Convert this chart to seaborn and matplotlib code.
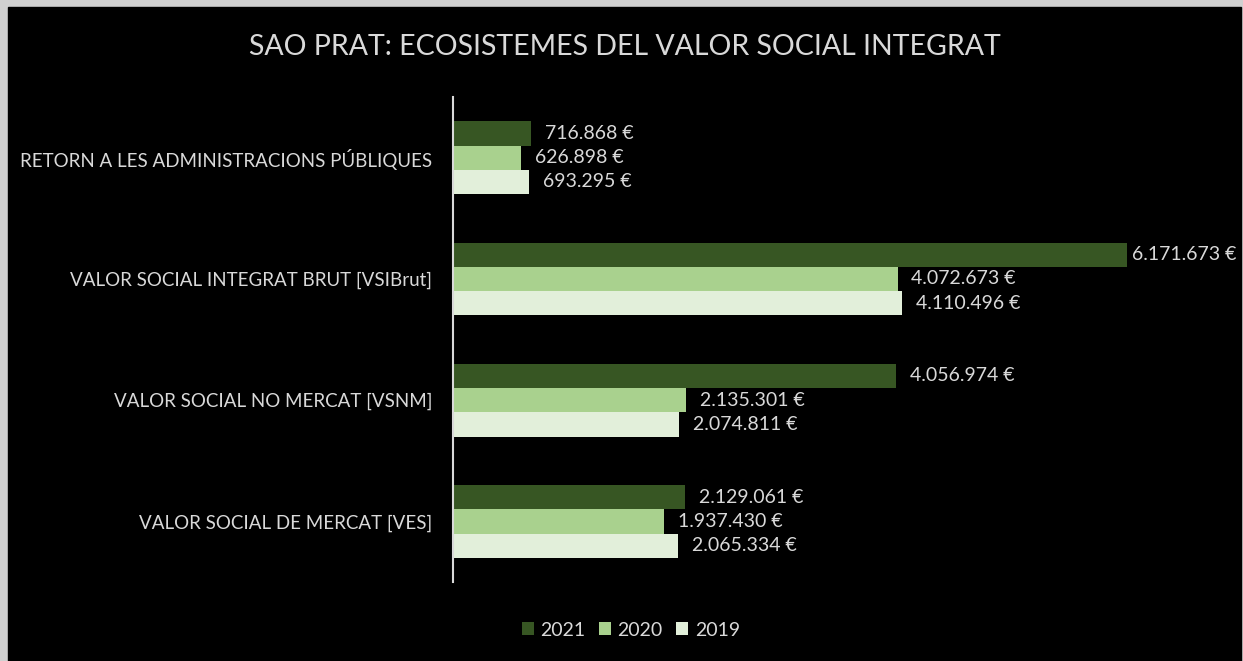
import pandas as pd
import matplotlib.pyplot as plt
import seaborn as sns
from matplotlib.patches import Rectangle

categories = [
    "RETORN A LES ADMINISTRACIONS PÚBLIQUES",
    "VALOR SOCIAL INTEGRAT BRUT [VSIBrut]",
    "VALOR SOCIAL NO MERCAT [VSNM]",
    "VALOR SOCIAL DE MERCAT [VES]",
]
years = ["2021", "2020", "2019"]
values_2021 = [716868, 6171673, 4056974, 2129061]
values_2020 = [626898, 4072673, 2135301, 1937430]
values_2019 = [693295, 4110496, 2074811, 2065334]
colors = ["#375623", "#a9d18e", "#e2efda"]

rows = []
for year, vals in zip(years, [values_2021, values_2020, values_2019]):
    for cat, v in zip(categories, vals):
        rows.append({"categoria": cat, "any": year, "valor": v})
df = pd.DataFrame(rows)

sns.set_style("dark")
plt.rcParams['font.family'] = ['Lato', 'DejaVu Sans']
text_color = "#d9d9d9"

fig = plt.figure(figsize=(12.43, 6.61), dpi=100)
fig.patch.set_facecolor("#d0d0d0")
fig.add_artist(Rectangle((8 / 1243, 0), 1233 / 1243, 654 / 661,
                         transform=fig.transFigure, color="black", zorder=-10))

ax = fig.add_axes([453 / 1243, 1 - 582 / 661, 764 / 1243, 485 / 661])
ax.set_facecolor("black")

sns.barplot(data=df, x="valor", y="categoria", hue="any", hue_order=years,
            order=categories, palette=colors, orient="h", width=0.6,
            saturation=1, linewidth=0, ax=ax, legend=True)

xmax = 7000000
vmax = df["valor"].max()
for cont in ax.containers:
    fmt = [f"{int(b.get_width()):,}".replace(",", ".") + " €" for b in cont]
    # Excel pulls the label of the longest bar closer so it fits in the chart
    near = [t if b.get_width() < vmax else "" for t, b in zip(fmt, cont)]
    far = [t if b.get_width() >= vmax else "" for t, b in zip(fmt, cont)]
    ax.bar_label(cont, labels=near, padding=10, color=text_color, fontsize=14)
    ax.bar_label(cont, labels=far, padding=4, color=text_color, fontsize=14)

ax.set_xlim(0, xmax)
ax.set_xlabel("")
ax.set_ylabel("")
ax.set_xticks([])
ax.tick_params(axis="y", length=0, pad=15, colors=text_color, labelsize=13.5)
for s in ["top", "right", "bottom"]:
    ax.spines[s].set_visible(False)
ax.spines["left"].set_visible(True)
ax.spines["left"].set_color(text_color)
ax.spines["left"].set_linewidth(1.5)
ax.grid(False)

leg = ax.legend(loc="center", bbox_to_anchor=(631 / 1243, 1 - 630 / 661),
                bbox_transform=fig.transFigure,
                ncol=3, frameon=False, fontsize=14, handlelength=0.6, handleheight=0.6,
                handletextpad=0.35, columnspacing=0.7)
for t in leg.get_texts():
    t.set_color(text_color)
for h in leg.legend_handles:
    h.set_linewidth(0)

fig.text(625 / 1243, 1 - 47 / 661, "SAO PRAT: ECOSISTEMES DEL VALOR SOCIAL INTEGRAT",
         ha="center", va="center", color=text_color, fontsize=20.5)

fig.savefig("out.png", dpi=100, facecolor=fig.get_facecolor())
